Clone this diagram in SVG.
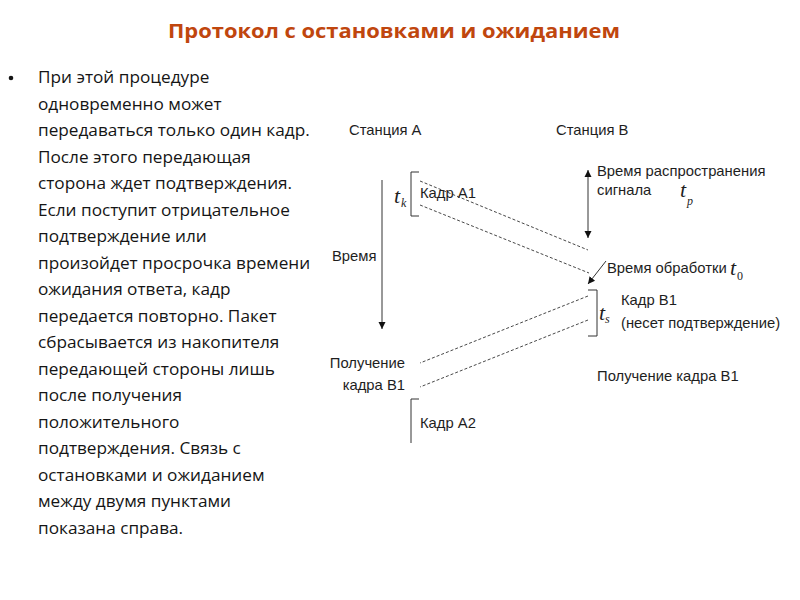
<svg xmlns="http://www.w3.org/2000/svg" width="800" height="600" viewBox="0 0 800 600">
<style>
.title{font-family:"Open Sans","Liberation Sans",sans-serif;font-weight:bold;font-size:20px;fill:#C0460E}
.body{font-family:"Open Sans","Liberation Sans",sans-serif;font-size:17.2px;fill:#151515}
.lbl{font-family:"Liberation Sans",Arial,sans-serif;font-size:14.8px;fill:#1e1e1e}
.it{font-family:"Liberation Serif","Times New Roman",serif;font-style:italic;font-size:22px;fill:#1e1e1e}
.sub{font-family:"Liberation Serif","Times New Roman",serif;font-style:italic;font-size:12px;fill:#1e1e1e}
.sub0{font-family:"Liberation Serif","Times New Roman",serif;font-size:12px;fill:#1e1e1e}
.ln{stroke:#333;stroke-width:1;fill:none}
.dash{stroke:#333;stroke-width:0.9;fill:none;stroke-dasharray:3 2}
</style>
<defs>
<marker id="ah" viewBox="0 0 10 10" refX="10" refY="5" markerWidth="7" markerHeight="9" markerUnits="userSpaceOnUse" orient="auto-start-reverse">
<path d="M0,0 L10,5 L0,10 z" fill="#111"/>
</marker>
</defs>

<text class="title" x="168" y="38" textLength="452" lengthAdjust="spacingAndGlyphs">Протокол с остановками и ожиданием</text>

<g id="bullet-text">
<circle cx="11" cy="78" r="2.3" fill="#151515"/>
<text class="body" x="38" y="83">При этой процедуре</text>
<text class="body" x="38" y="109.5">одновременно может</text>
<text class="body" x="38" y="136">передаваться только один кадр.</text>
<text class="body" x="38" y="162.5">После этого передающая</text>
<text class="body" x="38" y="189">сторона ждет подтверждения.</text>
<text class="body" x="38" y="215.5">Если поступит отрицательное</text>
<text class="body" x="38" y="242">подтверждение или</text>
<text class="body" x="38" y="268.5">произойдет просрочка времени</text>
<text class="body" x="38" y="295">ожидания ответа, кадр</text>
<text class="body" x="38" y="321.5">передается повторно. Пакет</text>
<text class="body" x="38" y="348">сбрасывается из накопителя</text>
<text class="body" x="38" y="374.5">передающей стороны лишь</text>
<text class="body" x="38" y="401">после получения</text>
<text class="body" x="38" y="427.5">положительного</text>
<text class="body" x="38" y="454">подтверждения. Связь с</text>
<text class="body" x="38" y="480.5">остановками и ожиданием</text>
<text class="body" x="38" y="507">между двумя пунктами</text>
<text class="body" x="38" y="533.5">показана справа.</text>
</g>

<g id="station-a"><text class="lbl" x="349" y="135">Станция А</text></g>
<g id="station-b"><text class="lbl" x="556" y="135">Станция В</text></g>

<g id="time-axis-label"><text class="lbl" x="332" y="261">Время</text></g>

<g id="frame-a1">
<path class="ln" d="M419,172 H411 V216 H419"/>
<text class="it" x="394" y="203">t</text><text class="sub" x="401" y="207">k</text>
<text class="lbl" x="420" y="198">Кадр А1</text>
</g>

<g id="prop-time">
<text class="lbl" x="597" y="176">Время распространения</text>
<text class="lbl" x="597" y="195">сигнала</text>
<text class="it" x="680" y="197">t</text><text class="sub" x="687" y="205">p</text>
</g>

<g id="proc-time">
<text class="lbl" x="607" y="273">Время обработки</text>
<text class="it" x="730" y="275">t</text><text class="sub0" x="737" y="280">0</text>
</g>

<g id="frame-b1">
<path class="ln" d="M588,290 H597 V336 H588"/>
<text class="it" x="599" y="320">t</text><text class="sub" x="605" y="323">s</text>
<text class="lbl" x="621" y="305">Кадр В1</text>
<text class="lbl" x="621" y="328">(несет подтверждение)</text>
</g>

<g id="recv-a">
<text class="lbl" x="405" y="368" text-anchor="end">Получение</text>
<text class="lbl" x="405" y="390" text-anchor="end">кадра В1</text>
</g>

<g id="recv-b"><text class="lbl" x="597" y="381">Получение кадра В1</text></g>

<g id="frame-a2">
<path class="ln" d="M419,399 H411 V443"/>
<text class="lbl" x="420" y="428">Кадр А2</text>
</g>

<g id="connectors">
<line class="ln" x1="382" y1="180" x2="382" y2="329" marker-end="url(#ah)"/>
<line class="ln" x1="588" y1="170" x2="588" y2="238" marker-start="url(#ah)" marker-end="url(#ah)"/>
<line class="ln" x1="606" y1="261" x2="588" y2="284" marker-end="url(#ah)"/>
<line class="dash" x1="420" y1="181" x2="588" y2="250"/>
<line class="dash" x1="420" y1="205" x2="589" y2="273"/>
<line class="dash" x1="588" y1="296" x2="420" y2="363"/>
<line class="dash" x1="588" y1="320" x2="420" y2="387"/>
</g>
</svg>
